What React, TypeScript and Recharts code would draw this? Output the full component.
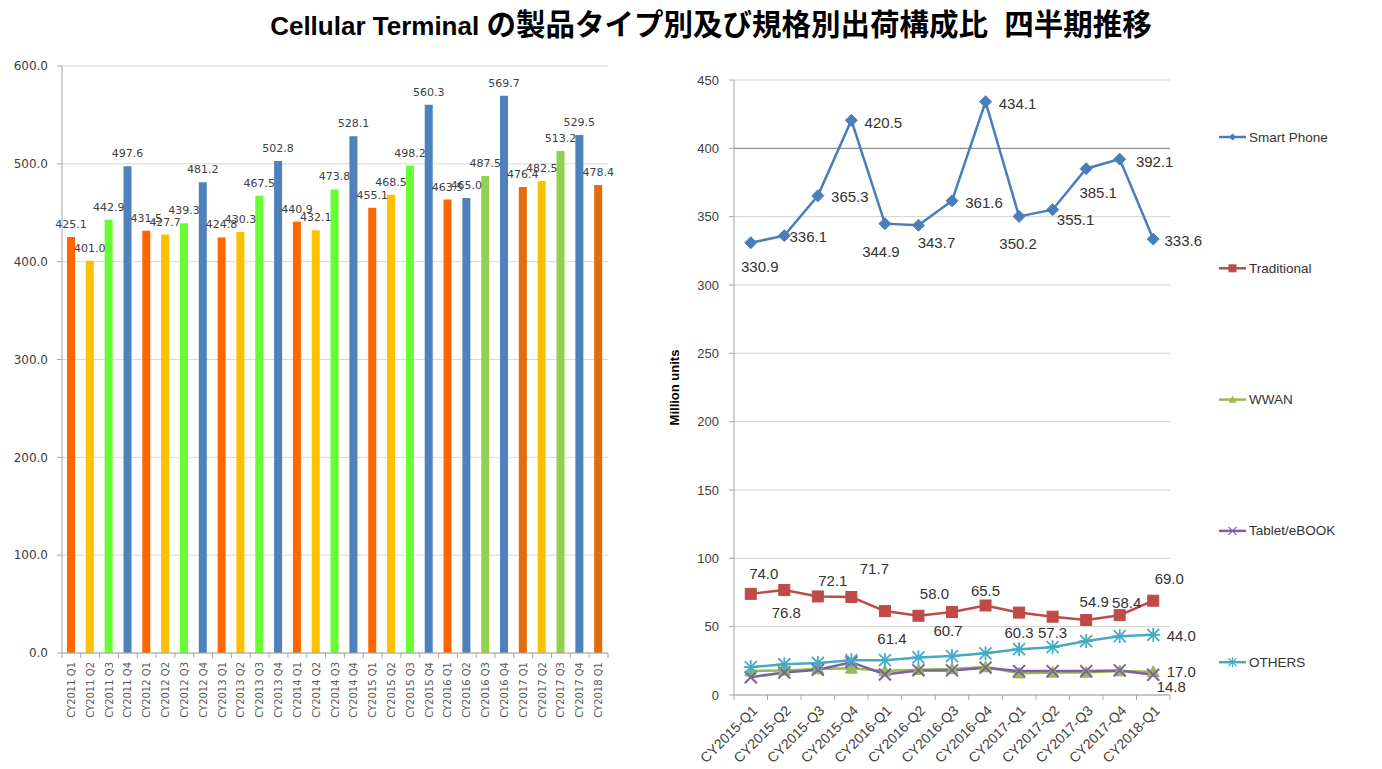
import React from "react"
import { Bar, BarChart, CartesianGrid, Cell, LabelList, Line, LineChart, ReferenceLine, XAxis, YAxis } from "recharts"

// left chart: total shipments per quarter
const barQuarters = [
  "CY2011 Q1", "CY2011 Q2", "CY2011 Q3", "CY2011 Q4",
  "CY2012 Q1", "CY2012 Q2", "CY2012 Q3", "CY2012 Q4",
  "CY2013 Q1", "CY2013 Q2", "CY2013 Q3", "CY2013 Q4",
  "CY2014 Q1", "CY2014 Q2", "CY2014 Q3", "CY2014 Q4",
  "CY2015 Q1", "CY2015 Q2", "CY2015 Q3", "CY2015 Q4",
  "CY2016 Q1", "CY2016 Q2", "CY2016 Q3", "CY2016 Q4",
  "CY2017 Q1", "CY2017 Q2", "CY2017 Q3", "CY2017 Q4",
  "CY2018 Q1",
]
const barTotals = [
  425.1, 401.0, 442.9, 497.6,
  431.5, 427.7, 439.3, 481.2,
  424.8, 430.3, 467.5, 502.8,
  440.9, 432.1, 473.8, 528.1,
  455.1, 468.5, 498.2, 560.3,
  463.5, 465.0, 487.5, 569.7,
  476.4, 482.5, 513.2, 529.5,
  478.4,
]
const barTicks = [0, 100, 200, 300, 400, 500, 600]

// right chart: by product type
const lineQuarters = [
  "CY2015-Q1", "CY2015-Q2", "CY2015-Q3", "CY2015-Q4",
  "CY2016-Q1", "CY2016-Q2", "CY2016-Q3", "CY2016-Q4",
  "CY2017-Q1", "CY2017-Q2", "CY2017-Q3", "CY2017-Q4",
  "CY2018-Q1",
]
const smartPhone = [330.9, 336.1, 365.3, 420.5, 344.9, 343.7, 361.6, 434.1, 350.2, 355.1, 385.1, 392.1, 333.6]
const traditional = [74.0, 76.8, 72.1, 71.7, 61.4, 58.0, 60.7, 65.5, 60.3, 57.3, 54.9, 58.4, 69.0]
const wwan = [17.5, 18, 19, 19.5, 17.5, 18.5, 19, 20.5, 16, 16.5, 16.5, 17.5, 17.0]
const tablet = [13, 16.5, 18.5, 24, 15, 18, 18, 20, 17.5, 17.5, 17.5, 18, 14.8]
const others = [20.4, 22.5, 23.5, 25.5, 25.5, 27.5, 28.5, 30.5, 33.5, 35, 39.5, 43, 44.0]
const lineTicks = [0, 50, 100, 150, 200, 250, 300, 350, 400, 450]

const barColors = [
  "#FF6600", "#FFC000", "#66FF33", "#4F81BD",
  "#FF6600", "#FFC000", "#66FF33", "#4F81BD",
  "#FF6600", "#FFC000", "#66FF33", "#4F81BD",
  "#FF6600", "#FFC000", "#66FF33", "#4F81BD",
  "#FF6600", "#FFC000", "#66FF33", "#4F81BD",
  "#FF6600", "#4F81BD", "#92D050", "#4F81BD",
  "#E46C0A", "#FFC000", "#92D050", "#4F81BD",
  "#E46C0A",
]

const BLUE = "#4A7EBB"
const RED = "#BE4B48"
const GREEN = "#98B954"
const PURPLE = "#7D60A0"
const CYAN = "#46AAC5"

// label offsets (dx, dy) from each point, like the hand-placed excel labels
const smartLabelPos = [[9, 24], [24, 1], [32, 1], [32, 2], [-4, 28], [18, 17], [32, 2], [32, 2], [-1, 27], [23, 10], [12, 24], [35, 2], [30, 1]]
const tradLabelPos = [[13, -20], [2, 22], [15, -16], [23, -29], [7, 27], [16, -22], [-4, 18], [0, -15], [0, 20], [0, 16], [8, -18], [7, -13], [16, -22]]

const barData = barQuarters.map((q, i) => ({ quarter: q, total: barTotals[i] }))
const lineData = lineQuarters.map((q, i) => ({
  quarter: q,
  smart: smartPhone[i],
  traditional: traditional[i],
  wwan: wwan[i],
  tablet: tablet[i],
  others: others[i],
}))

const BAR_PLOT_W = 546
const barBand = BAR_PLOT_W / barQuarters.length
const LINE_PLOT_W = 436
const lineBand = LINE_PLOT_W / lineQuarters.length

const dejavu = "'DejaVu Sans', Verdana, sans-serif"
const arial = "'Liberation Sans', Arial, sans-serif"

const BarTick = (props: any) => {
  const { x, y, payload, index } = props
  const left = x - barBand / 2
  return (
    <g>
      <line x1={left} y1={y} x2={left} y2={y + 5} stroke="#A6A6A6" />
      {index === barQuarters.length - 1 && <line x1={x + barBand / 2} y1={y} x2={x + barBand / 2} y2={y + 5} stroke="#A6A6A6" />}
      <text x={x} y={y + 9} transform={`rotate(-90 ${x} ${y + 9})`} textAnchor="end" dominantBaseline="central" fontSize={10} fontFamily={dejavu} fill="#595959">
        {payload.value}
      </text>
    </g>
  )
}

const LineTick = (props: any) => {
  const { x, y, payload, index } = props
  const left = x - lineBand / 2
  const ax = x + 4
  const ay = y + 13
  return (
    <g>
      <line x1={left} y1={y} x2={left} y2={y + 5} stroke="#A6A6A6" />
      {index === lineQuarters.length - 1 && <line x1={x + lineBand / 2} y1={y} x2={x + lineBand / 2} y2={y + 5} stroke="#A6A6A6" />}
      <text x={ax} y={ay} transform={`rotate(-45 ${ax} ${ay})`} textAnchor="end" dominantBaseline="central" fontSize={14} fontFamily={arial} fill="#404040">
        {payload.value}
      </text>
    </g>
  )
}

const diamond = (cx: number, cy: number, r: number) => `M${cx},${cy - r}L${cx + r},${cy}L${cx},${cy + r}L${cx - r},${cy}Z`
const triangle = (cx: number, cy: number, r: number) => `M${cx},${cy - r}L${cx + r},${cy + r * 0.8}L${cx - r},${cy + r * 0.8}Z`

const DiamondDot = (props: any) => {
  const { cx, cy, index } = props
  return <path key={`sp-${index}`} d={diamond(cx, cy, 6)} fill={BLUE} stroke={BLUE} />
}
const SquareDot = (props: any) => {
  const { cx, cy, index } = props
  return <rect key={`tr-${index}`} x={cx - 5.5} y={cy - 5.5} width={11} height={11} fill={RED} stroke={RED} />
}
const TriangleDot = (props: any) => {
  const { cx, cy, index } = props
  return <path key={`ww-${index}`} d={triangle(cx, cy, 6)} fill={GREEN} stroke={GREEN} />
}
const CrossDot = (props: any) => {
  const { cx, cy, index } = props
  return (
    <g key={`tb-${index}`} stroke={PURPLE} strokeWidth={2}>
      <line x1={cx - 6} y1={cy - 6} x2={cx + 6} y2={cy + 6} />
      <line x1={cx - 6} y1={cy + 6} x2={cx + 6} y2={cy - 6} />
    </g>
  )
}
const StarDot = (props: any) => {
  const { cx, cy, index } = props
  return (
    <g key={`ot-${index}`} stroke={CYAN} strokeWidth={1.8}>
      <line x1={cx - 6} y1={cy - 6} x2={cx + 6} y2={cy + 6} />
      <line x1={cx - 6} y1={cy + 6} x2={cx + 6} y2={cy - 6} />
      <line x1={cx} y1={cy - 7} x2={cx} y2={cy + 7} />
      <line x1={cx - 7} y1={cy} x2={cx + 7} y2={cy} />
    </g>
  )
}

const labelAt = (pos: number[][] | null, lastOnly: [number, number] | null) => (props: any) => {
  const { x, y, value, index } = props
  let d: number[] | null = null
  if (pos) d = pos[index]
  else if (lastOnly && index === lineQuarters.length - 1) d = lastOnly
  if (!d) return null
  return (
    <text key={`lb-${index}`} x={x + d[0]} y={y + d[1]} textAnchor="middle" dominantBaseline="central" fontSize={15} fontFamily={arial} fill="#333">
      {Number(value).toFixed(1)}
    </text>
  )
}

const legendItems = [
  { name: "Smart Phone", color: BLUE, kind: "diamond" },
  { name: "Traditional", color: RED, kind: "square" },
  { name: "WWAN", color: GREEN, kind: "triangle" },
  { name: "Tablet/eBOOK", color: PURPLE, kind: "cross" },
  { name: "OTHERS", color: CYAN, kind: "star" },
]

const LegendIcon = ({ kind, color, cx, cy }: { kind: string; color: string; cx: number; cy: number }) => {
  if (kind === "diamond") return <path d={diamond(cx, cy, 3.5)} fill={color} />
  if (kind === "square") return <rect x={cx - 4} y={cy - 4} width={8} height={8} fill={color} />
  if (kind === "triangle") return <path d={triangle(cx, cy, 4)} fill={color} />
  if (kind === "cross")
    return (
      <g stroke={color} strokeWidth={1.3}>
        <line x1={cx - 4} y1={cy - 4} x2={cx + 4} y2={cy + 4} />
        <line x1={cx - 4} y1={cy + 4} x2={cx + 4} y2={cy - 4} />
      </g>
    )
  return (
    <g stroke={color} strokeWidth={1.2}>
      <line x1={cx - 4} y1={cy - 4} x2={cx + 4} y2={cy + 4} />
      <line x1={cx - 4} y1={cy + 4} x2={cx + 4} y2={cy - 4} />
      <line x1={cx} y1={cy - 5} x2={cx} y2={cy + 5} />
    </g>
  )
}

export default function App() {
  return (
    <div style={{ position: "absolute", left: 0, top: 0, width: 1382, height: 769, background: "#fff", overflow: "hidden" }}>
      <div
        style={{
          position: "absolute",
          left: 40,
          top: 9,
          width: 1342,
          textAlign: "center",
          fontFamily: "'Liberation Sans', Arial, 'Noto Sans CJK JP', sans-serif",
          fontWeight: "bold",
          fontSize: 26,
          lineHeight: "32px",
          color: "#000",
          whiteSpace: "nowrap",
        }}
      >
        Cellular Terminal <span style={{ fontSize: 29.5 }}>の製品タイプ別及び規格別出荷構成比&nbsp;&nbsp;四半期推移</span>
      </div>

      <div style={{ position: "absolute", left: 0, top: 0 }}>
        <BarChart width={620} height={769} data={barData} margin={{ top: 66, right: 12, bottom: 56, left: 0 }} barSize={8}>
          <CartesianGrid vertical={false} stroke="#D9D9D9" />
          <XAxis dataKey="quarter" interval={0} height={60} tickLine={false} tickSize={0} tickMargin={0} stroke="#A6A6A6" tick={BarTick} />
          <YAxis
            width={62}
            domain={[0, 600]}
            ticks={barTicks}
            tickFormatter={(v: number) => v.toFixed(1)}
            tickSize={5}
            tickMargin={9}
            stroke="#A6A6A6"
            tick={{ fontSize: 12, fontFamily: dejavu, fill: "#404040" }}
          />
          <Bar dataKey="total" isAnimationActive={false}>
            {barData.map((d, i) => (
              <Cell key={d.quarter} fill={barColors[i]} />
            ))}
            <LabelList
              dataKey="total"
              position="top"
              offset={9}
              formatter={(v: any) => Number(v).toFixed(1)}
              style={{ fontSize: 11, fontFamily: dejavu, fill: "#404040" }}
            />
          </Bar>
        </BarChart>
      </div>

      <div style={{ position: "absolute", left: 640, top: 0 }}>
        <LineChart width={742} height={769} data={lineData} margin={{ top: 80, right: 212, bottom: 14, left: 0 }}>
          <CartesianGrid vertical={false} stroke="#D0D0D0" />
          <ReferenceLine y={400} stroke="#808080" />
          <XAxis
            dataKey="quarter"
            interval={0}
            height={60}
            padding={{ left: lineBand / 2, right: lineBand / 2 }}
            tickLine={false}
            tickSize={0}
            tickMargin={0}
            stroke="#A6A6A6"
            tick={LineTick}
          />
          <YAxis
            width={94}
            domain={[0, 450]}
            ticks={lineTicks}
            tickSize={5}
            tickMargin={10}
            stroke="#A6A6A6"
            tick={{ fontSize: 13, fontFamily: arial, fill: "#404040" }}
            label={{
              value: "Million units",
              angle: -90,
              position: "insideLeft",
              offset: 34,
              style: { fontSize: 13, fontWeight: "bold", fontFamily: arial, fill: "#000", textAnchor: "middle" },
            }}
          />
          <Line dataKey="smart" stroke={BLUE} strokeWidth={2.5} dot={DiamondDot} isAnimationActive={false}>
            <LabelList dataKey="smart" content={labelAt(smartLabelPos, null)} />
          </Line>
          <Line dataKey="traditional" stroke={RED} strokeWidth={2.5} dot={SquareDot} isAnimationActive={false}>
            <LabelList dataKey="traditional" content={labelAt(tradLabelPos, null)} />
          </Line>
          <Line dataKey="wwan" stroke={GREEN} strokeWidth={2.5} dot={TriangleDot} isAnimationActive={false}>
            <LabelList dataKey="wwan" content={labelAt(null, [28, 0])} />
          </Line>
          <Line dataKey="tablet" stroke={PURPLE} strokeWidth={2.5} dot={CrossDot} isAnimationActive={false}>
            <LabelList dataKey="tablet" content={labelAt(null, [18, 12])} />
          </Line>
          <Line dataKey="others" stroke={CYAN} strokeWidth={2.5} dot={StarDot} isAnimationActive={false}>
            <LabelList dataKey="others" content={labelAt(null, [28, 1])} />
          </Line>
        </LineChart>
      </div>

      <svg style={{ position: "absolute", left: 1200, top: 0 }} width={182} height={769}>
        {legendItems.map((item, i) => {
          const cy = 137 + i * 131.3
          return (
            <g key={item.name}>
              <line x1={19} y1={cy} x2={46} y2={cy} stroke={item.color} strokeWidth={2.5} />
              <LegendIcon kind={item.kind} color={item.color} cx={32.5} cy={cy} />
              <text x={49} y={cy} dominantBaseline="central" fontSize={13.5} fontFamily={arial} fill="#333">
                {item.name}
              </text>
            </g>
          )
        })}
      </svg>
    </div>
  )
}
